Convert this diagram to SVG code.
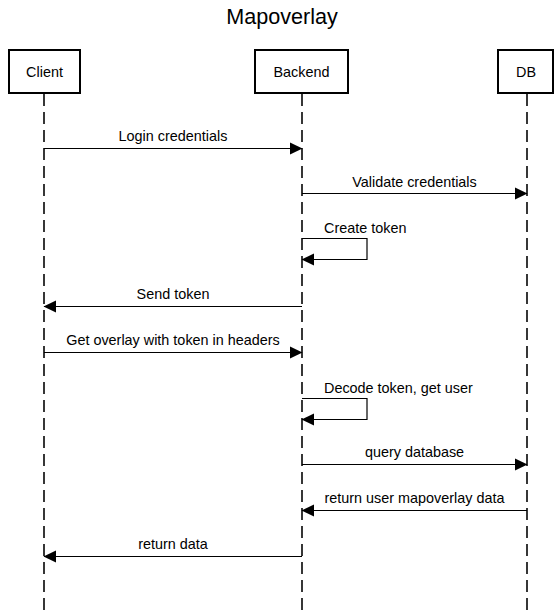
<svg xmlns="http://www.w3.org/2000/svg" width="554" height="611" viewBox="0 0 554 611">
<style>
  text { font-family: "Liberation Sans", Arial, sans-serif; fill: #000; }
  .title { font-size: 21.6px; text-anchor: middle; }
  .lbl { font-size: 14.4px; text-anchor: middle; }
  .self { font-size: 14.4px; text-anchor: start; }
  .box { fill: #fff; stroke: #000; stroke-width: 2; }
  .life { stroke: #222; stroke-width: 1.8; stroke-dasharray: 12 6; fill: none; }
  .msg { stroke: #000; stroke-width: 1.2; fill: none; marker-end: url(#ah); }
</style>
<defs>
  <marker id="ah" markerUnits="userSpaceOnUse" markerWidth="13" markerHeight="13" viewBox="0 0 13 13" refX="12" refY="6.5" orient="auto">
    <path d="M0,0.5 L12.5,6.5 L0,12.5 Z" fill="#000"/>
  </marker>
</defs>
<rect width="554" height="611" fill="#fff"/>
<text class="title" x="282" y="24">Mapoverlay</text>

<g id="lifelines">
  <line class="life" x1="44" y1="94" x2="44" y2="611"/>
  <line class="life" x1="302" y1="94" x2="302" y2="611"/>
  <line class="life" x1="527" y1="94" x2="527" y2="611"/>
</g>

<g id="node-client">
  <rect class="box" x="9" y="50" width="71" height="43"/>
  <text class="lbl" x="44.5" y="77">Client</text>
</g>
<g id="node-backend">
  <rect class="box" x="255" y="50" width="93" height="43"/>
  <text class="lbl" x="301.5" y="77">Backend</text>
</g>
<g id="node-db">
  <rect class="box" x="498" y="50" width="55" height="43"/>
  <text class="lbl" x="526" y="77">DB</text>
</g>

<g id="connectors">
  <line class="msg" x1="44" y1="148.5" x2="302" y2="148.5"/>
  <text class="lbl" x="173" y="141">Login credentials</text>

  <line class="msg" x1="302" y1="193.5" x2="527" y2="193.5"/>
  <text class="lbl" x="414.5" y="186.5">Validate credentials</text>

  <path class="msg" d="M302,238.5 H367 V259.5 H302"/>
  <text class="self" x="324" y="233">Create token</text>

  <line class="msg" x1="302" y1="306.5" x2="44" y2="306.5"/>
  <text class="lbl" x="173" y="299">Send token</text>

  <line class="msg" x1="44" y1="352.5" x2="302" y2="352.5"/>
  <text class="lbl" x="173" y="345">Get overlay with token in headers</text>

  <path class="msg" d="M302,398.5 H367 V419.5 H302"/>
  <text class="self" x="324" y="392.5">Decode token, get user</text>

  <line class="msg" x1="302" y1="464.5" x2="527" y2="464.5"/>
  <text class="lbl" x="414.5" y="457">query database</text>

  <line class="msg" x1="527" y1="510.5" x2="302" y2="510.5"/>
  <text class="lbl" x="414.5" y="503">return user mapoverlay data</text>

  <line class="msg" x1="302" y1="556.5" x2="44" y2="556.5"/>
  <text class="lbl" x="173" y="549">return data</text>
</g>
</svg>
